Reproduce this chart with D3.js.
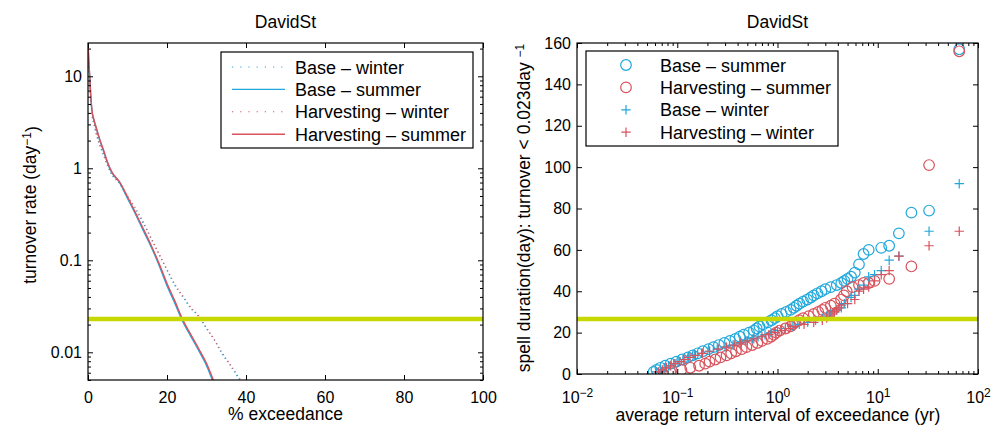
<!DOCTYPE html>
<html>
<head>
<meta charset="utf-8">
<script src="https://cdn.jsdelivr.net/npm/d3@7"></script>
<style>
  body { margin: 0; background: #fff; }
  svg { font-family: "Liberation Sans", Arial, Helvetica, sans-serif; }
</style>
</head>
<body>
<div id="viz"></div>
<script>
// --- panel izquierdo: curvas de excedencia (turnover rate vs % exceedance)
var pctSummer = [0, 0.2, 0.4, 0.7, 1, 1.5, 2, 3, 4, 5, 6, 8, 10, 12, 14, 16, 18, 20, 22, 24, 26, 28, 30, 32, 34];
var baseSummer = [24, 14, 10.5, 6, 4.2, 3.3, 2.8, 2.0, 1.5, 1.12, 0.9, 0.7, 0.47, 0.32, 0.21, 0.14, 0.088, 0.053, 0.034, 0.0215, 0.015, 0.0105, 0.0072, 0.0044, 0.003];
var harvSummer = [24, 14.5, 10.8, 6.2, 4.3, 3.4, 2.85, 2.05, 1.55, 1.15, 0.92, 0.71, 0.49, 0.33, 0.22, 0.145, 0.092, 0.056, 0.036, 0.0225, 0.0157, 0.011, 0.0076, 0.0047, 0.0032];

var pctWinter = [0, 0.2, 0.4, 0.7, 1, 1.5, 2, 3, 4, 5, 6, 8, 10, 12, 14, 16, 18, 20, 22, 24, 26, 28, 30, 32, 34, 36, 38, 40];
var baseWinter = [24, 13, 9.5, 5.5, 3.8, 3.0, 2.4, 1.75, 1.35, 1.05, 0.85, 0.68, 0.48, 0.35, 0.25, 0.17, 0.115, 0.078, 0.053, 0.04, 0.03, 0.0245, 0.018, 0.0135, 0.0095, 0.0072, 0.0053, 0.004];
var harvWinter = [24, 13.5, 9.8, 5.7, 3.9, 3.1, 2.5, 1.8, 1.4, 1.08, 0.87, 0.7, 0.5, 0.37, 0.26, 0.175, 0.118, 0.08, 0.055, 0.041, 0.031, 0.025, 0.0185, 0.0138, 0.0098, 0.0074, 0.0055, 0.0041];

var umbralTurnover = 0.023;
var xTicksIzq = [0, 20, 40, 60, 80, 100];
var yTicksIzq = [0.01, 0.1, 1, 10];
var yLabelsIzq = ['0.01', '0.1', '1', '10'];

// --- panel derecho: duracion de rachas vs intervalo de retorno
var bsX = [0.058, 0.062, 0.068, 0.076, 0.086, 0.098, 0.112, 0.128, 0.143, 0.16, 0.18, 0.205, 0.23, 0.26, 0.295, 0.335, 0.38, 0.42, 0.46, 0.52, 0.58, 0.62, 0.66, 0.72, 0.8, 0.87, 0.94, 1.0, 1.1, 1.22, 1.35, 1.45, 1.55, 1.66, 1.8, 1.98, 2.15, 2.3, 2.5, 2.75, 3.0, 3.4, 3.9, 4.33, 4.64, 5.0, 5.42, 5.9, 6.5, 7.22, 8.125, 10.83, 13, 16.25, 21.67, 32.5, 65];
var bsD = [1, 2, 3, 4, 5, 6, 7, 8, 9, 10, 11, 12, 13, 14, 15, 16, 17, 18, 19, 20, 21, 22, 23, 24, 25, 26, 27, 28, 29, 30, 31, 32, 33, 34, 35, 36, 37, 38, 39, 40, 41, 42, 43, 44, 45, 46, 47, 49, 53, 58, 60, 61, 62, 68, 78, 79, 157];

var hsX = [0.085, 0.11, 0.135, 0.165, 0.19, 0.21, 0.24, 0.27, 0.31, 0.345, 0.385, 0.44, 0.49, 0.56, 0.63, 0.7, 0.79, 0.86, 0.92, 0.97, 1.05, 1.2, 1.35, 1.42, 1.5, 1.65, 1.8, 2.05, 2.3, 2.55, 2.8, 3.0, 3.4, 3.7, 4.3, 4.6, 4.9, 5.6, 6.5, 7.22, 8.125, 9.29, 13, 21.67, 32.5, 65];
var hsD = [1, 2, 3, 4, 5, 6, 7, 8, 9, 10, 11, 12, 13, 14, 15, 16, 17, 18, 19, 20, 21, 22, 23, 24, 25, 26, 27, 28, 29, 30, 31, 32, 33, 34, 36, 38, 40, 42, 43, 44, 44, 45, 46, 52, 101, 156];

var bwX = [0.062, 0.068, 0.074, 0.082, 0.092, 0.102, 0.115, 0.13, 0.148, 0.175, 0.21, 0.25, 0.3, 0.36, 0.42, 0.48, 0.56, 0.64, 0.75, 0.86, 1.0, 1.2, 1.4, 1.65, 2.0, 2.4, 2.8, 3.1, 3.4, 3.66, 3.9, 4.33, 4.64, 5.42, 5.9, 6.5, 7.22, 8.125, 9.29, 10.83, 13, 16.25, 32.5, 65];
var bwD = [1, 2, 3, 4, 5, 6, 7, 8, 9, 10, 11, 12, 13, 14, 15, 16, 17, 18, 19, 20, 21, 22, 23, 24, 25, 26, 27, 28, 29, 30, 31, 32, 34, 37, 38, 41, 43, 47, 48, 50, 55, 57, 69, 92];

var hwX = [0.065, 0.071, 0.078, 0.086, 0.095, 0.106, 0.119, 0.134, 0.152, 0.178, 0.21, 0.255, 0.31, 0.37, 0.43, 0.5, 0.58, 0.7, 0.82, 0.95, 1.1, 1.3, 1.46, 1.84, 2.3, 2.8, 3.1, 3.3, 3.5, 3.7, 3.9, 4.1, 4.33, 5.0, 5.9, 6.5, 7.22, 8.125, 9.29, 10.83, 13, 16.25, 32.5, 65];
var hwD = [1, 2, 3, 4, 5, 6, 7, 8, 9, 10, 11, 12, 13, 14, 15, 16, 17, 18, 19, 20, 21, 22, 23, 24, 25, 26, 27, 28, 29, 30, 31, 32, 33, 34, 36, 40, 41, 42, 45, 48, 50, 57, 62, 69];

var umbralDuracion = 26.6;
var xTicksDer = [0.01, 0.1, 1, 10, 100];
var xExpDer = ['\u22122', '\u22121', '0', '1', '2'];
var yTicksDer = [0, 20, 40, 60, 80, 100, 120, 140, 160];

// colores
var azul = '#22a8dc';
var rojo = '#d9525c';
var verde = '#c6d800';

var svg = d3.select('#viz')
  .append('svg')
  .attr('width', 992)
  .attr('height', 427);

var izq = {x0: 88, x1: 483, y0: 43, y1: 380};
var der = {x0: 577, x1: 978, y0: 43, y1: 374};

var x1 = d3.scaleLinear().domain([0, 100]).range([izq.x0, izq.x1]);
var y1 = d3.scaleLog().domain([0.005, 23]).range([izq.y1, izq.y0]);
var x2 = d3.scaleLog().domain([0.01, 100]).range([der.x0, der.x1]);
var y2 = d3.scaleLinear().domain([0, 160]).range([der.y1, der.y0]);

// minor ticks log
function menores(desde, hasta, dom) {
  var res = [];
  for (var e = desde; e <= hasta; e++) {
    for (var m = 2; m <= 9; m++) {
      var v = m * Math.pow(10, e);
      if (v >= dom[0] && v <= dom[1]) res.push(v);
    }
  }
  return res;
}

var defs = svg.append('defs');
defs.append('clipPath').attr('id', 'clipIzq')
  .append('rect').attr('x', izq.x0).attr('y', izq.y0)
  .attr('width', izq.x1 - izq.x0).attr('height', izq.y1 - izq.y0);
defs.append('clipPath').attr('id', 'clipDer')
  .append('rect').attr('x', der.x0).attr('y', der.y0)
  .attr('width', der.x1 - der.x0).attr('height', der.y1 - der.y0);

function estiloEje(g, size) {
  g.attr('font-size', size).attr('font-family', null);
  g.select('.domain').remove();
  g.selectAll('.tick line').attr('stroke', '#000').attr('stroke-width', 1);
  g.selectAll('.tick text').attr('fill', '#000');
}

/*
 * Panel izquierdo
 */
var gI = svg.append('g');

gI.append('rect')
  .attr('x', izq.x0).attr('y', izq.y0)
  .attr('width', izq.x1 - izq.x0).attr('height', izq.y1 - izq.y0)
  .attr('fill', '#fff');

var linea = d3.line().curve(d3.curveMonotoneX);

var curvas = [
  {pct: pctWinter, val: baseWinter, color: azul, dash: '1.2,3'},
  {pct: pctSummer, val: baseSummer, color: azul, dash: null},
  {pct: pctWinter, val: harvWinter, color: rojo, dash: '1.2,3'},
  {pct: pctSummer, val: harvSummer, color: rojo, dash: null}
];

var gCurvas = gI.append('g').attr('clip-path', 'url(#clipIzq)');
curvas.forEach(function(c) {
  var pts = c.pct.map(function(p, i) { return [x1(p), y1(c.val[i])]; });
  gCurvas.append('path')
    .attr('d', linea(pts))
    .attr('fill', 'none')
    .attr('stroke', c.color)
    .attr('stroke-width', c.dash ? 1.1 : 1.4)
    .attr('stroke-dasharray', c.dash);
});

// linea umbral
gCurvas.append('line')
  .attr('x1', izq.x0).attr('x2', izq.x1)
  .attr('y1', y1(umbralTurnover)).attr('y2', y1(umbralTurnover))
  .attr('stroke', verde).attr('stroke-width', 4.5);

// ejes
gI.append('g').attr('transform', 'translate(0,' + izq.y1 + ')')
  .call(d3.axisBottom(x1).tickValues(xTicksIzq).tickSize(-5).tickPadding(11.5).tickFormat(d3.format('d')))
  .call(estiloEje, 16);
gI.append('g').attr('transform', 'translate(0,' + izq.y0 + ')')
  .call(d3.axisTop(x1).tickValues(xTicksIzq).tickSize(-5).tickFormat(''))
  .call(estiloEje, 16);
gI.append('g').attr('transform', 'translate(' + izq.x0 + ',0)')
  .call(d3.axisLeft(y1).tickValues(yTicksIzq).tickSize(-5).tickPadding(6)
    .tickFormat(function(d, i) { return yLabelsIzq[i]; }))
  .call(estiloEje, 16);
gI.append('g').attr('transform', 'translate(' + izq.x0 + ',0)')
  .call(d3.axisLeft(y1).tickValues(menores(-3, 1, y1.domain())).tickSize(-3).tickFormat(''))
  .call(estiloEje, 16);
gI.append('g').attr('transform', 'translate(' + izq.x1 + ',0)')
  .call(d3.axisRight(y1).tickValues(yTicksIzq).tickSize(-5).tickFormat(''))
  .call(estiloEje, 16);
gI.append('g').attr('transform', 'translate(' + izq.x1 + ',0)')
  .call(d3.axisRight(y1).tickValues(menores(-3, 1, y1.domain())).tickSize(-3).tickFormat(''))
  .call(estiloEje, 16);

gI.append('rect')
  .attr('x', izq.x0).attr('y', izq.y0)
  .attr('width', izq.x1 - izq.x0).attr('height', izq.y1 - izq.y0)
  .attr('fill', 'none').attr('stroke', '#000').attr('stroke-width', 1.2);

// textos
gI.append('text')
  .attr('x', (izq.x0 + izq.x1) / 2).attr('y', 28)
  .attr('text-anchor', 'middle').attr('font-size', 17.5)
  .text('DavidSt');
gI.append('text')
  .attr('x', (izq.x0 + izq.x1) / 2).attr('y', 420)
  .attr('text-anchor', 'middle').attr('font-size', 17.5)
  .text('% exceedance');

var tyI = gI.append('text')
  .attr('transform', 'translate(36,205) rotate(-90)')
  .attr('text-anchor', 'middle').attr('font-size', 17.5);
tyI.append('tspan').text('turnover rate (day');
tyI.append('tspan').attr('dy', '-0.45em').attr('font-size', 12).text('\u22121');
tyI.append('tspan').attr('dy', '0.45em').text(')');

// leyenda izquierda
var legI = gI.append('g');
legI.append('rect')
  .attr('x', 221).attr('y', 52).attr('width', 252).attr('height', 96)
  .attr('fill', '#fff').attr('stroke', '#000').attr('stroke-width', 1.2);
var nombresI = ['Base \u2013 winter', 'Base \u2013 summer', 'Harvesting \u2013 winter', 'Harvesting \u2013 summer'];
nombresI.forEach(function(n, i) {
  var cy = 67 + i * 22.4;
  legI.append('line')
    .attr('x1', 232).attr('x2', 285).attr('y1', cy).attr('y2', cy)
    .attr('stroke', curvas[i].color)
    .attr('stroke-width', curvas[i].dash ? 1.1 : 1.4)
    .attr('stroke-dasharray', curvas[i].dash ? '1.2,7' : null);
  legI.append('text')
    .attr('x', 295).attr('y', cy + 6.5)
    .attr('font-size', 18).text(n);
});

/*
 * Panel derecho
 */
var gD = svg.append('g');

gD.append('rect')
  .attr('x', der.x0).attr('y', der.y0)
  .attr('width', der.x1 - der.x0).attr('height', der.y1 - der.y0)
  .attr('fill', '#fff');

var series = [
  {x: bsX, d: bsD, color: azul, tipo: 'o'},
  {x: hsX, d: hsD, color: rojo, tipo: 'o'},
  {x: bwX, d: bwD, color: azul, tipo: '+'},
  {x: hwX, d: hwD, color: rojo, tipo: '+'}
];

var cruz = 'M-4.7,0H4.7M0,-4.7V4.7';

var gPuntos = gD.append('g').attr('clip-path', 'url(#clipDer)');
series.forEach(function(s) {
  var pts = s.x.map(function(v, i) { return {x: v, d: s.d[i]}; });
  if (s.tipo === 'o') {
    gPuntos.append('g').selectAll('circle')
      .data(pts).enter().append('circle')
      .attr('cx', function(p) { return x2(p.x); })
      .attr('cy', function(p) { return y2(p.d); })
      .attr('r', 5.3)
      .attr('fill', 'none')
      .attr('stroke', s.color)
      .attr('stroke-width', 1.2);
  } else {
    gPuntos.append('g').selectAll('path')
      .data(pts).enter().append('path')
      .attr('transform', function(p) { return 'translate(' + x2(p.x) + ',' + y2(p.d) + ')'; })
      .attr('d', cruz)
      .attr('fill', 'none')
      .attr('stroke', s.color)
      .attr('stroke-width', 1.2);
  }
});

gPuntos.append('line')
  .attr('x1', der.x0).attr('x2', der.x1)
  .attr('y1', y2(umbralDuracion)).attr('y2', y2(umbralDuracion))
  .attr('stroke', verde).attr('stroke-width', 4.5);

// ejes
var ejeXD = gD.append('g').attr('transform', 'translate(0,' + der.y1 + ')')
  .call(d3.axisBottom(x2).tickValues(xTicksDer).tickSize(-5).tickPadding(18).tickFormat(''))
  .call(estiloEje, 16);
ejeXD.selectAll('.tick text').each(function(d, i) {
  var t = d3.select(this);
  t.append('tspan').text('10');
  t.append('tspan').attr('dy', '-0.5em').attr('font-size', 12).text(xExpDer[i]);
});
gD.append('g').attr('transform', 'translate(0,' + der.y1 + ')')
  .call(d3.axisBottom(x2).tickValues(menores(-2, 1, x2.domain())).tickSize(-3).tickFormat(''))
  .call(estiloEje, 16);
gD.append('g').attr('transform', 'translate(0,' + der.y0 + ')')
  .call(d3.axisTop(x2).tickValues(xTicksDer).tickSize(-5).tickFormat(''))
  .call(estiloEje, 16);
gD.append('g').attr('transform', 'translate(0,' + der.y0 + ')')
  .call(d3.axisTop(x2).tickValues(menores(-2, 1, x2.domain())).tickSize(-3).tickFormat(''))
  .call(estiloEje, 16);
gD.append('g').attr('transform', 'translate(' + der.x0 + ',0)')
  .call(d3.axisLeft(y2).tickValues(yTicksDer).tickSize(-5).tickPadding(6).tickFormat(d3.format('d')))
  .call(estiloEje, 16);
gD.append('g').attr('transform', 'translate(' + der.x1 + ',0)')
  .call(d3.axisRight(y2).tickValues(yTicksDer).tickSize(-5).tickFormat(''))
  .call(estiloEje, 16);

gD.append('rect')
  .attr('x', der.x0).attr('y', der.y0)
  .attr('width', der.x1 - der.x0).attr('height', der.y1 - der.y0)
  .attr('fill', 'none').attr('stroke', '#000').attr('stroke-width', 1.2);

gD.append('text')
  .attr('x', (der.x0 + der.x1) / 2).attr('y', 28)
  .attr('text-anchor', 'middle').attr('font-size', 17.5)
  .text('DavidSt');
gD.append('text')
  .attr('x', 778).attr('y', 421)
  .attr('text-anchor', 'middle').attr('font-size', 17.5)
  .text('average return interval of exceedance (yr)');

var tyD = gD.append('text')
  .attr('transform', 'translate(530,208) rotate(-90)')
  .attr('text-anchor', 'middle').attr('font-size', 17.5);
tyD.append('tspan').text('spell duration(day): turnover < 0.023day ');
tyD.append('tspan').attr('dy', '-0.5em').attr('font-size', 12).text('\u22121');

// leyenda derecha
var legD = gD.append('g');
legD.append('rect')
  .attr('x', 586).attr('y', 51).attr('width', 252).attr('height', 95)
  .attr('fill', '#fff').attr('stroke', '#000').attr('stroke-width', 1.2);
var nombresD = ['Base \u2013 summer', 'Harvesting \u2013 summer', 'Base \u2013 winter', 'Harvesting \u2013 winter'];
nombresD.forEach(function(n, i) {
  var cy = 65 + i * 22.4;
  var s = series[i];
  if (s.tipo === 'o') {
    legD.append('circle')
      .attr('cx', 626).attr('cy', cy).attr('r', 5.3)
      .attr('fill', 'none').attr('stroke', s.color).attr('stroke-width', 1.2);
  } else {
    legD.append('path')
      .attr('transform', 'translate(626,' + cy + ')')
      .attr('d', cruz)
      .attr('fill', 'none').attr('stroke', s.color).attr('stroke-width', 1.2);
  }
  legD.append('text')
    .attr('x', 660).attr('y', cy + 6.5)
    .attr('font-size', 18).text(n);
});
</script>
</body>
</html>
